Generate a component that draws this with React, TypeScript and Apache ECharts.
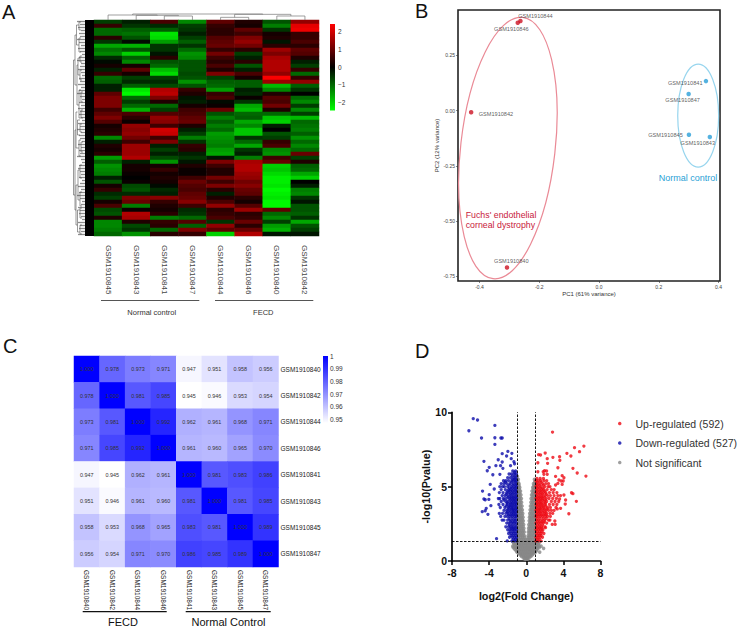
import React, { useEffect, useRef } from "react";
import * as echarts from "echarts";

const FONT = "Liberation Sans";

// ---------- Panel A ----------
const heatColsA = ["GSM1910845", "GSM1910843", "GSM1910841", "GSM1910847", "GSM1910844", "GSM1910846", "GSM1910840", "GSM1910842"];
const col845 = [-0.6,0.5,-1.0,-1.0,0.4,-0.5,-1.6,-1.1,-1.3,-0.4,-0.1,0.2,-0.3,0.5,-1.0,-0.9,-0.3,-0.3,0.9,1.2,1.2,1.2,0.6,0.9,1.2,0.8,0.2,0.3,0.4,-1.3,-0.3,0.3,0.2,0.4,-1.5,-0.9,-1.4,-1.3,-1.2,-0.3,-0.8,0.2,0.5,-0.4,-0.6,0.2,0.7,-0.7,-0.8,0.3,-1.3,-1.3,-1.2,-1.0];
const col843 = [-0.3,-0.5,-0.9,-1.1,-0.8,-0.1,-1.7,-0.8,-2.0,-0.9,-1.3,0.2,0.9,0.2,-0.6,-0.4,-0.9,-2.2,-2.4,-1.0,-0.6,-1.0,-1.7,0.7,0.4,0.1,1.4,1.3,1.4,1.1,0.6,1.5,1.5,1.5,1.7,-0.3,0.2,0.2,0.1,0,0.1,-0.7,-0.8,-0.4,1.2,1.0,-1.2,0.1,1.7,1.6,0.3,-0.7,-0.5,-1.4];
const col841 = [0.7,-0.4,-0.9,-2.2,-2.1,-1.5,-0.5,-0.5,-0.2,0.4,-0.8,-1.0,-1.8,-2.1,-0.6,-0.4,-0.7,1.7,1.8,1.2,0.3,-1.0,-0.6,0.8,1.4,1.3,0.6,2.0,1.9,0.6,1.2,-0.3,-0.6,-0.3,-0.7,-1.4,0.2,0.5,0.2,0.3,0.2,-0.1,-0.4,-0.3,1.3,0.5,0.3,0.2,0.4,-1.2,0.5,0.4,-1.0,0.4];
const col847 = [-1.3,-0.6,-0.5,-0.3,-0.6,-0.9,-0.5,-1.0,-1.4,-1.3,-0.8,-0.8,-0.8,-0.7,-0.8,-1.4,-0.8,0.5,0.3,-0.2,-0.3,0.2,0.6,0.7,0.9,1.0,0.3,-0.3,-0.6,-1.2,-0.5,0.5,0.4,-0.3,-0.5,-0.2,0.3,0.1,0.1,0.6,1.0,0.8,0.7,0.9,1.0,1.3,0.6,-0.4,-0.5,-1.0,0.8,-0.9,1.2,0.5];
const col844 = [0.9,0.5,0.4,0.4,0.8,0.9,1.0,0.5,1.1,0.6,0.4,0.7,0.3,1.2,-0.6,-0.9,-1.0,-1.5,0.5,0.7,-0.1,0.1,1.0,-0.8,-1.2,-0.9,-1.2,-1.0,-1.5,-1.4,-1.3,-1.2,-1.5,-1.6,-0.2,1.2,0.6,0.3,0.3,1.1,0.6,1.2,0.4,-0.3,0.3,0.7,1.4,0.4,0.5,0.7,-0.5,1.4,0.9,-2.0];
const col846 = [0.3,0.2,0.9,0.6,1.2,1.4,1.1,0.4,-0.6,-0.3,0.4,-0.8,-0.3,0.7,0.2,-0.9,-0.9,-0.3,-0.4,0.1,-0.5,-1.6,-1.8,-1.0,-0.9,-1.6,-1.3,-1.9,-1.9,-0.5,-1.0,-1.6,-0.5,-0.3,-1.2,1.6,1.7,1.7,1.5,1.4,1.1,1.3,1.0,0.9,0.4,0.2,0.8,1.5,0.4,0.5,1.0,0.4,1.0,1.7];
const col840 = [-0.8,-1.2,-0.5,0.2,0.3,-0.2,0.4,1.5,1.2,1.6,1.7,1.7,1.7,1.4,2.4,1.5,-1.8,-1.3,0.3,0.8,0.7,1.1,0.3,-1.0,-1.9,-2.0,-0.3,0,-0.8,-0.6,0.5,0.7,-1.3,-1.4,0.6,1.0,-2.0,-1.9,-2.1,-2.3,-2.3,-2.2,-2.4,-2.3,-2.2,-2.4,-2.4,0.9,-1.0,-1.3,-0.6,-1.5,-1.7,-0.2];
const col842 = [1.4,2.2,2.3,0.5,0.5,0.7,0.4,0.9,0.8,0.3,-0.3,-0.6,0.5,-1.0,0.5,1.4,-0.9,-0.5,0,-1.0,-1.3,-0.6,-1.3,-0.6,-1.8,-1.0,-1.1,-1.2,-0.9,-1.4,-1.0,-1.3,-1.0,1.0,-0.6,0.3,-0.9,-1.0,-1.6,-2.0,0,-0.3,-1.2,-1.3,-0.5,-0.2,-0.8,-0.8,-0.9,-0.5,-1.6,-0.8,-0.6,-0.2];
const heatValuesA = [col845, col843, col841, col847, col844, col846, col840, col842];
const colorTicksA = [2, 1, 0, -1, -2];
const colorRangeA = [-2.45, 2.45];

// top dendrogram: left column, right column, height, left child height, right child height
const topLinks = [
  [2.5, 3.5, 4, 0, 0],
  [1.5, 3.0, 4.67, 0, 4],
  [0.5, 2.25, 5, 0, 4.67],
  [4.5, 5.5, 2.67, 0, 0],
  [6.5, 7.5, 4, 0, 0],
  [5.0, 7.0, 5.67, 2.67, 4],
  [1.375, 6.0, 6, 5, 5.67],
];
// left dendrogram brackets: x, y0, y1, child x at y0, child x at y1
const leftBrackets = [
  [0.5,40,175,2,2],[2,15,65,3.5,4],[2,110,190,3,3],[3.5,5,25,6,6],[4,45,85,5,6],[3,92,128,4.5,6],[3,165,205,5,4.5],
  [6,2,10,8,8],[6,18,32,8,8],[5,38,55,7,7],[6,70,98,8,8],[4.5,100,115,7,7],[6,120,136,8,8],[5,150,180,7,7],[4.5,190,212,7,7],
  [7,36,42,9,9],[7,50,60,9,9],[7,104,112,9,9],[7,145,158,9,9],[7,172,186,9,9],[7,188,198,9,9],[7,205,214,9,9],
  [8,72,82,10,10],[8,90,98,10,10],[8,122,132,10,10],
];
const leafStarts = [4,7,5,8,6,7,4,6,8,5,7,9,6,4,8,7,5,8,9,6,7,5,8,6,4,7,9,6,8,5,7,6,8,9,5,7,4,8,6,7,9,5,8,6,7,4,8,9,6,5,7,8,6,9,7,5,8,6,4,7,9,8,5,7,6,8,9,5,7,6,8,5];
const blackBand = [12, 0, 21, 216];

// ---------- Panel B ----------
const pcaNames = ["GSM1910844","GSM1910846","GSM1910842","GSM1910840","GSM1910841","GSM1910847","GSM1910845","GSM1910843"];
const pc1 = [-0.263,-0.272,-0.428,-0.308,0.358,0.300,0.301,0.371];
const pc2 = [0.406,0.398,-0.007,-0.710,0.134,0.076,-0.109,-0.119];
const pcaGroupRed = [true,true,true,true,false,false,false,false];
const pcaLabelOffsets = [[15,-5.5],[-6.4,6],[24.8,2],[4.3,-6.7],[-20.7,2],[-6,6],[-23.4,0.6],[-12,6]];
const pcXTicks = [-0.4,-0.2,0,0.2,0.4];
const pcYTicks = [0.25,0,-0.25,-0.5,-0.75];
// ellipses: cx, cy, rx, ry, tilt degrees
const redEllipse = [-0.305,-0.169,0.158,0.595,6.5];
const blueEllipse = [0.332,-0.0225,0.0685,0.233,0];

// ---------- Panel C ----------
const corrNames = ["GSM1910840","GSM1910842","GSM1910844","GSM1910846","GSM1910841","GSM1910843","GSM1910845","GSM1910847"];
const corrRows = [
  [1.000,0.978,0.973,0.971,0.947,0.951,0.958,0.956],
  [0.978,1.000,0.981,0.985,0.945,0.946,0.953,0.954],
  [0.973,0.981,1.000,0.992,0.962,0.961,0.968,0.971],
  [0.971,0.985,0.992,1.000,0.961,0.960,0.965,0.970],
  [0.947,0.945,0.962,0.961,1.000,0.981,0.983,0.986],
  [0.951,0.946,0.961,0.960,0.981,1.000,0.981,0.985],
  [0.958,0.953,0.968,0.965,0.983,0.981,1.000,0.989],
  [0.956,0.954,0.971,0.970,0.986,0.985,0.989,1.000],
];
const colorTicksC = [1,0.99,0.98,0.97,0.96,0.95];
const colorRangeC = [0.9474, 1];

// ---------- Panel D ----------
const upRows: [number, number[]][] = [
  [1.35,[1.05,1.3,1.6]],[1.6,[1.05,1.25,1.5,1.75]],[1.85,[1.1,1.35,1.6,1.9]],[2.1,[1.05,1.3,1.55,1.8]],
  [2.3,[1.1,1.4,1.65,2.0]],[2.55,[1.05,1.3,1.55,1.85,2.2]],[2.75,[1.1,1.35,1.7,2.0,2.4]],
  [3.0,[1.05,1.25,1.5,1.75,2.05,2.3,2.6]],[3.2,[1.1,1.35,1.6,1.95,2.2,2.55,2.85]],
  [3.4,[1.05,1.3,1.5,1.8,2.1,2.4,2.7,3.0]],[3.6,[1.1,1.4,1.65,1.9,2.3,2.6,3.2]],
  [3.8,[1.05,1.25,1.5,1.75,2.05,2.5,2.9,3.3]],[4.0,[1.1,1.35,1.6,1.95,2.2,2.7,3.1,3.5]],
  [4.2,[1.05,1.3,1.55,1.8,2.15,2.45,2.85,3.25]],[4.4,[1.1,1.4,1.7,2.0,2.3,2.6,3.0,3.4,3.7]],
  [4.6,[1.05,1.3,1.55,1.85,2.1,2.5,2.9,3.3]],[4.8,[1.1,1.35,1.65,1.9,2.25,2.7,3.0]],
  [5.0,[1.05,1.3,1.6,2.0,2.35,2.55]],[5.2,[1.1,1.4,1.75,2.1,2.4]],[5.4,[1.05,1.3,1.55,1.9,2.2]],[5.55,[1.15,1.5,1.85]],
];
const upRowsFill: [number, number[]][] = [
  [1.47,[1.15,1.4]],[1.72,[1.2,1.4,1.6]],[1.97,[1.2,1.45,1.7]],[2.2,[1.2,1.45,1.7]],[2.42,[1.2,1.45,1.75]],
  [2.65,[1.2,1.45,1.7,1.95]],[2.87,[1.2,1.5,1.85,2.15]],[3.1,[1.15,1.4,1.65,1.9,2.15]],[3.3,[1.2,1.45,1.75,2.05]],
  [3.5,[1.15,1.4,1.6,1.95,2.25]],[3.7,[1.2,1.5,1.8,2.1]],[3.9,[1.15,1.45,1.7,2.05]],[4.1,[1.2,1.45,1.75,2.05]],
  [4.3,[1.15,1.4,1.65,1.95]],[4.5,[1.2,1.5,1.75,2.15]],[4.7,[1.15,1.45,1.7,2.0]],[4.9,[1.2,1.5,1.8]],[5.1,[1.15,1.45,1.85]],[5.3,[1.2,1.6]],
];
const upOutliers = [[2.83,8.67],[6.21,7.73],[5.2,7.62],[5.74,7.35],[4.38,7.24],[4.81,7.06],[1.33,7.15],[1.54,7.13],[2.04,7.26],[2.87,6.97],[3.59,7.01],[3.62,6.77],[2.26,6.88],[2.3,6.57],[1.25,6.61],[3.41,6.27],[5.03,6.23],[5.49,5.92],[6.43,5.71],[1.97,6.07],[1.83,6.0],[2.19,6.05],[1.25,6.0],[1.9,5.83],[2.26,5.83],[3.16,5.69],[3.87,5.74],[4.06,5.6],[3.52,5.45],[3.77,5.38],[3.98,5.38],[3.41,5.22],[3.87,5.15],[3.16,5.11],[4.88,4.59],[5.03,4.53],[4.06,4.44],[4.24,4.1],[4.2,3.83],[3.59,4.17],[5.4,4.01],[3.7,3.54],[3.34,3.5],[4.59,3.18],[3.08,2.69],[2.8,2.46],[3.12,2.46],[2.08,2.24],[2.55,2.75]];
const downRows: [number, number[]][] = [
  [1.35,[-1.05,-1.3,-1.55,-2.05]],[1.6,[-1.05,-1.25,-1.5,-1.8]],[1.85,[-1.1,-1.35,-1.6,-1.9]],[2.1,[-1.05,-1.3,-1.5,-1.75,-2.0]],
  [2.3,[-1.1,-1.4,-1.65,-1.9,-2.2]],[2.55,[-1.05,-1.3,-1.55,-1.85,-2.1]],[2.75,[-1.1,-1.35,-1.7,-2.0,-2.4,-2.6]],
  [3.0,[-1.05,-1.25,-1.5,-1.75,-2.05,-2.3,-2.75]],[3.2,[-1.1,-1.35,-1.6,-1.95,-2.2,-2.55,-2.9]],
  [3.4,[-1.05,-1.3,-1.5,-1.8,-2.1,-2.4]],[3.6,[-1.1,-1.4,-1.65,-1.9,-2.3,-2.8]],
  [3.8,[-1.05,-1.25,-1.5,-1.75,-2.05,-2.5,-2.95]],[4.0,[-1.1,-1.35,-1.6,-1.95,-2.2,-2.7]],
  [4.2,[-1.05,-1.3,-1.55,-1.8,-2.15,-2.45,-2.85,-3.0]],[4.4,[-1.1,-1.4,-1.7,-2.0,-2.3,-2.6]],
  [4.6,[-1.05,-1.3,-1.55,-1.85,-2.1,-2.5,-2.9]],[4.8,[-1.1,-1.35,-1.65,-1.9,-2.25,-2.7]],
  [5.0,[-1.05,-1.3,-1.6,-2.0,-2.35,-2.55,-2.85]],[5.2,[-1.1,-1.4,-1.75,-2.1,-2.4,-2.7]],
  [5.4,[-1.05,-1.3,-1.55,-1.9,-2.2,-2.45]],[5.6,[-1.1,-1.35,-1.7,-2.0]],[5.85,[-1.05,-1.3,-1.6,-1.85]],[6.05,[-1.15,-1.45]],
];
const downRowsFill: [number, number[]][] = [
  [1.47,[-1.15,-1.4]],[1.72,[-1.15,-1.4,-1.65]],[1.97,[-1.2,-1.45,-1.75]],[2.2,[-1.2,-1.4,-1.65]],[2.42,[-1.2,-1.5,-1.8]],
  [2.65,[-1.2,-1.45,-1.7]],[2.87,[-1.2,-1.5,-1.85]],[3.1,[-1.15,-1.4,-1.65,-1.9]],[3.3,[-1.2,-1.45,-1.75,-2.05]],
  [3.5,[-1.15,-1.4,-1.6,-1.95]],[3.7,[-1.2,-1.5,-1.8,-2.15]],[3.9,[-1.15,-1.45,-1.7,-2.05]],[4.1,[-1.2,-1.45,-1.75,-2.4]],
  [4.3,[-1.15,-1.4,-1.65,-1.95]],[4.5,[-1.2,-1.5,-1.75,-2.15]],[4.7,[-1.15,-1.45,-1.7,-2.0]],[4.9,[-1.2,-1.5,-1.8]],[5.1,[-1.15,-1.45,-1.85]],[5.3,[-1.2,-1.6,-2.25]],[5.5,[-1.2,-1.45]],[5.72,[-1.2,-1.5]],[5.95,[-1.25]],
];
const downOutliers = [[-5.71,9.57],[-5.25,9.48],[-6.18,8.76],[-3.38,9.12],[-4.82,8.27],[-3.38,8.29],[-2.73,8.27],[-2.59,8.27],[-3.38,7.84],[-1.98,7.37],[-2.59,7.22],[-1.55,7.24],[-2.12,7.06],[-3.02,6.81],[-4.56,6.7],[-1.62,6.88],[-2.59,6.66],[-1.33,6.68],[-1.26,6.54],[-3.27,6.41],[-3.99,6.3],[-2.77,6.41],[-1.69,6.41],[-4.2,6.07],[-2.52,6.23],[-3.6,5.8],[-2.84,5.83],[-4.71,4.7],[-3.88,5.15],[-3.45,4.84],[-3.99,4.46],[-4.56,4.17],[-4.42,4.12],[-4.03,4.14],[-3.81,3.72],[-4.31,3.54],[-4.74,3.32],[-4.42,3.38],[-4.13,3.14],[-3.2,1.5]];
const grayRows: [number, number[]][] = [
  [0.12,[-0.15,0,0.15]],[0.3,[-0.5,-0.3,-0.1,0.1,0.3,0.5]],[0.5,[-0.8,-0.6,-0.4,-0.2,0,0.2,0.4,0.6,0.8]],
  [0.7,[-1.1,-0.9,-0.7,-0.5,-0.3,-0.1,0.1,0.3,0.5,0.7,0.9,1.1]],
  [0.9,[-1.4,-1.2,-1,-0.8,-0.6,-0.4,-0.2,0,0.2,0.4,0.6,0.8,1,1.2,1.4]],
  [1.1,[-1.3,-1.1,-0.9,-0.7,-0.5,-0.3,-0.1,0.1,0.3,0.5,0.7,0.9,1.1,1.3]],
  [1.3,[-1.45,-1.2,-1,-0.8,-0.6,-0.4,-0.2,0,0.2,0.4,0.6,0.8,1,1.2,1.45]],
  [1.45,[-0.9,-0.7,-0.5,-0.3,-0.1,0.1,0.3,0.5,0.7,0.9]],[1.7,[-0.8,-0.6,-0.4,-0.2,0.2,0.4,0.6,0.8]],
  [1.95,[-0.95,-0.8,-0.6,-0.4,-0.22,0.22,0.4,0.6,0.8,0.95]],[2.2,[-0.85,-0.65,-0.45,-0.25,0.25,0.45,0.65,0.85]],
  [2.45,[-0.9,-0.7,-0.5,-0.28,0.28,0.5,0.7,0.9]],[2.7,[-0.9,-0.7,-0.5,-0.32,0.32,0.5,0.7,0.9]],
  [2.95,[-0.92,-0.75,-0.55,-0.35,0.35,0.55,0.75,0.92]],[3.2,[-0.8,-0.6,-0.38,0.38,0.6,0.8]],
  [3.45,[-0.82,-0.62,-0.42,0.42,0.62,0.82]],[3.7,[-0.85,-0.65,-0.45,0.45,0.65,0.85]],
  [3.95,[-0.9,-0.7,-0.5,0.5,0.7,0.9]],[4.2,[-0.9,-0.72,-0.52,0.52,0.72,0.9]],
  [4.45,[-0.92,-0.75,-0.57,0.57,0.75,0.92]],[4.7,[-0.94,-0.8,-0.62,0.62,0.8,0.94]],
  [4.95,[-0.85,-0.7,0.7,0.85]],[5.2,[-0.92,-0.78,0.78,0.92]],[5.5,[-0.95,-0.85,0.88]],
];
const grayRowsFill: [number, number[]][] = [
  [0.2,[-0.3,-0.15,0,0.15,0.3]],[0.4,[-0.65,-0.5,-0.3,-0.1,0.1,0.3,0.5,0.65]],[0.6,[-1,-0.8,-0.6,-0.4,-0.2,0,0.2,0.4,0.6,0.8,1]],
  [0.8,[-1.25,-1.05,-0.85,-0.65,-0.45,-0.25,-0.05,0.15,0.35,0.55,0.75,0.95,1.2]],[1,[-1.45,-1.2,-1,-0.8,-0.6,-0.4,-0.2,0,0.2,0.4,0.6,0.8,1,1.2,1.4]],
  [1.2,[-1.35,-1.1,-0.9,-0.7,-0.5,-0.3,-0.1,0.1,0.3,0.5,0.7,0.9,1.1,1.35]],
  [1.57,[-0.85,-0.6,-0.4,-0.2,0.2,0.4,0.6,0.85]],[1.82,[-0.9,-0.7,-0.5,-0.3,0.3,0.5,0.7,0.9]],[2.07,[-0.9,-0.7,-0.5,-0.3,0.3,0.5,0.7,0.9]],
  [2.32,[-0.95,-0.75,-0.55,-0.35,0.35,0.55,0.75,0.95]],[2.57,[-0.8,-0.6,-0.4,0.4,0.6,0.8]],[2.82,[-0.82,-0.62,-0.42,0.42,0.62,0.82]],
  [3.07,[-0.9,-0.7,-0.45,0.45,0.7,0.9]],[3.32,[-0.92,-0.72,-0.5,0.5,0.72,0.92]],[3.57,[-0.92,-0.75,-0.55,0.55,0.75,0.92]],
  [3.82,[-0.78,-0.58,0.58,0.78]],[4.07,[-0.8,-0.62,0.62,0.8]],[4.32,[-0.85,-0.66,0.66,0.85]],[4.57,[-0.85,-0.7,0.7,0.85]],
  [4.82,[-0.9,-0.75,0.75,0.9]],[5.07,[-0.88,-0.78,0.82,0.92]],[5.35,[-0.9,0.92]],[5.7,[-0.95]],
];
const grayOutliers = [[1.87,0.85],[1.45,0.6],[1.6,1.0]];
const dLegendNames = ["Up-regulated (592)", "Down-regulated (527)", "Not significant"];

const expand = (rows: [number, number[]][]) => rows.flatMap(([y, xs]) => xs.map((x) => [x, y]));

const noAxis = { show: false };

function segmentSeries(gridIndex: number, data: number[][], stroke: string, lineWidth: number) {
  return {
    type: "custom",
    xAxisIndex: gridIndex,
    yAxisIndex: gridIndex,
    coordinateSystem: "cartesian2d",
    silent: true,
    clip: false,
    data,
    encode: { x: [0, 2], y: [1, 3] },
    renderItem: (_p: any, api: any) => {
      const a = api.coord([api.value(0), api.value(1)]);
      const b = api.coord([api.value(2), api.value(3)]);
      return { type: "line", shape: { x1: a[0], y1: a[1], x2: b[0], y2: b[1] }, style: { stroke, lineWidth, fill: "none" } };
    },
  };
}

function colorBarSeries(gridIndex: number, range: number[], stops: { offset: number; color: string }[]) {
  return {
    type: "custom",
    xAxisIndex: gridIndex,
    yAxisIndex: gridIndex,
    silent: true,
    data: [[0, range[0], range[1]]],
    encode: { y: [1, 2] },
    renderItem: (p: any, api: any) => {
      const lo = api.coord([0, api.value(1)]);
      const hi = api.coord([0, api.value(2)]);
      return {
        type: "rect",
        shape: { x: p.coordSys.x, y: hi[1], width: p.coordSys.width, height: lo[1] - hi[1] },
        style: { fill: new echarts.graphic.LinearGradient(0, 0, 0, 1, stops) },
      };
    },
  };
}

function ellipseSeries(gridIndex: number, e: number[], stroke: string) {
  return {
    type: "custom",
    xAxisIndex: gridIndex,
    yAxisIndex: gridIndex,
    silent: true,
    clip: false,
    data: [e],
    renderItem: (_p: any, api: any) => {
      const c = api.coord([api.value(0), api.value(1)]);
      const s = api.size([api.value(2), api.value(3)]);
      return {
        type: "ellipse",
        x: c[0],
        y: c[1],
        rotation: (-api.value(4) * Math.PI) / 180,
        shape: { cx: 0, cy: 0, rx: s[0], ry: s[1] },
        style: { fill: "none", stroke, lineWidth: 1.2 },
      };
    },
  };
}

function textEl(text: string, x: number, y: number, fontSize: number, fill: string, align = "left", rotation = 0) {
  return { type: "text", x, y, rotation, style: { text, fontSize, fontFamily: FONT, fill, align, verticalAlign: "middle" } };
}
function lineEl(x1: number, x2: number, y: number, stroke: string, lineWidth: number) {
  return { type: "line", shape: { x1, y1: y, x2, y2: y }, style: { stroke, lineWidth } };
}

function buildOption() {
  const heatDataA: number[][] = [];
  heatValuesA.forEach((col, c) => col.forEach((v, r) => heatDataA.push([c, r, v])));
  const heatDataC: number[][] = [];
  corrRows.forEach((row, r) => row.forEach((v, c) => heatDataC.push([c, r, v])));

  const topSegs: number[][] = [];
  topLinks.forEach(([l, r, h, hl, hr]) => {
    topSegs.push([l, h, r, h], [l, h, l, hl], [r, h, r, hr]);
  });
  const leftSegs: number[][] = [];
  leftBrackets.forEach(([x, y0, y1, c0, c1]) => {
    leftSegs.push([x, y0, x, y1], [x, y0, c0, y0], [x, y1, c1, y1]);
  });
  const leafSegs = leafStarts.map((x, i) => [x, 1.5 + i * 3, blackBand[0], 1.5 + i * 3]);
  const pcaData = pcaNames.map((name, i) => ({
    name,
    value: [pc1[i], pc2[i]],
    itemStyle: { color: pcaGroupRed[i] ? "#cc1122" : "#2b9fd8" },
    label: { show: true, position: "inside", offset: pcaLabelOffsets[i], formatter: name, fontSize: 5.6, color: "#333", fontFamily: FONT },
  }));

  const grids = [
    { left: 94, top: 20, width: 225, height: 216 },
    { left: 73, top: 20, width: 21, height: 216 },
    { left: 94, top: 14, width: 225, height: 6 },
    { left: 330, top: 24, width: 5, height: 86.5 },
    { left: 458, top: 10, width: 262, height: 271, show: true, borderColor: "#222", borderWidth: 1.6, backgroundColor: "transparent" },
    { left: 74, top: 356, width: 204.5, height: 211 },
    { left: 323, top: 356, width: 5, height: 67 },
    { left: 452, top: 412.3, width: 148.5, height: 148.7 },
  ];
  const xAxes: any[] = [
    {
      gridIndex: 0, type: "category", data: heatColsA, position: "bottom",
      axisLine: { show: false }, axisTick: { show: false }, splitLine: { show: false },
      axisLabel: { rotate: -90, fontSize: 8, color: "#444", fontFamily: FONT, margin: 9, interval: 0 },
    },
    { gridIndex: 1, type: "value", min: 0, max: 21, ...noAxis },
    { gridIndex: 2, type: "value", min: 0, max: 8, ...noAxis },
    { gridIndex: 3, type: "value", min: 0, max: 1, ...noAxis },
    {
      gridIndex: 4, type: "value", min: -0.472, max: 0.405, position: "bottom",
      name: "PC1 (61% variance)", nameLocation: "middle", nameGap: 10,
      nameTextStyle: { fontSize: 6, color: "#333", fontFamily: FONT },
      axisLine: { show: false, onZero: false }, splitLine: { show: false },
      axisTick: { length: 2, customValues: pcXTicks, lineStyle: { color: "#333", width: 0.6 } },
      axisLabel: { customValues: pcXTicks, fontSize: 5, color: "#444", margin: 3, fontFamily: FONT, formatter: (v: number) => v.toFixed(1) },
    },
    {
      gridIndex: 5, type: "category", data: corrNames, position: "bottom",
      axisLine: { show: false }, axisTick: { show: false }, splitLine: { show: false },
      axisLabel: { rotate: -90, fontSize: 6.5, color: "#222", fontFamily: FONT, margin: 3, interval: 0 },
    },
    { gridIndex: 6, type: "value", min: 0, max: 1, ...noAxis },
    {
      gridIndex: 7, type: "value", min: -8, max: 8, interval: 4, position: "bottom",
      name: "log2(Fold Change)", nameLocation: "middle", nameGap: 29,
      nameTextStyle: { fontSize: 10.8, fontWeight: "bold", color: "#111", fontFamily: FONT },
      splitLine: { show: false },
      axisLine: { onZero: false, lineStyle: { color: "#000", width: 1.7 } },
      axisTick: { length: 4, lineStyle: { color: "#000", width: 1.5 } },
      axisLabel: { fontSize: 10.5, fontWeight: "bold", color: "#111", margin: 6, fontFamily: FONT },
    },
  ];
  const yAxes: any[] = [
    { gridIndex: 0, type: "category", inverse: true, data: col845.map((_, i) => String(i)), ...noAxis },
    { gridIndex: 1, type: "value", min: 0, max: 216, inverse: true, ...noAxis },
    { gridIndex: 2, type: "value", min: 0, max: 6, ...noAxis },
    {
      gridIndex: 3, type: "value", min: colorRangeA[0], max: colorRangeA[1], position: "right",
      axisLine: { show: false }, axisTick: { show: false }, splitLine: { show: false },
      axisLabel: { customValues: colorTicksA, fontSize: 6.5, color: "#333", margin: 3, fontFamily: FONT, formatter: (v: number) => (v < 0 ? "\u2212" + Math.abs(v) : String(v)) },
    },
    {
      gridIndex: 4, type: "value", min: -0.771, max: 0.456, position: "left",
      name: "PC2 (12% variance)", nameLocation: "middle", nameGap: 17, nameRotate: 90,
      nameTextStyle: { fontSize: 6, color: "#333", fontFamily: FONT },
      axisLine: { show: false, onZero: false }, splitLine: { show: false },
      axisTick: { length: 2, customValues: pcYTicks, lineStyle: { color: "#333", width: 0.6 } },
      axisLabel: { customValues: pcYTicks, fontSize: 5, color: "#444", margin: 3, fontFamily: FONT, formatter: (v: number) => v.toFixed(2) },
    },
    {
      gridIndex: 5, type: "category", data: corrNames, inverse: true, position: "right",
      axisLine: { show: false }, axisTick: { show: false }, splitLine: { show: false },
      axisLabel: { fontSize: 6.5, color: "#222", fontFamily: FONT, margin: 2, interval: 0 },
    },
    {
      gridIndex: 6, type: "value", min: colorRangeC[0], max: colorRangeC[1], position: "right",
      axisLine: { show: false }, axisTick: { show: false }, splitLine: { show: false },
      axisLabel: { customValues: colorTicksC, fontSize: 6.5, color: "#333", margin: 2, fontFamily: FONT, formatter: (v: number) => String(v) },
    },
    {
      gridIndex: 7, type: "value", min: 0, max: 10, interval: 5, position: "left",
      name: "-log10(Pvalue)", nameLocation: "middle", nameGap: 21, nameRotate: 90,
      nameTextStyle: { fontSize: 10.8, fontWeight: "bold", color: "#111", fontFamily: FONT },
      splitLine: { show: false },
      axisLine: { onZero: false, lineStyle: { color: "#000", width: 1.7 } },
      axisTick: { length: 4, lineStyle: { color: "#000", width: 1.5 } },
      axisLabel: { fontSize: 10.5, fontWeight: "bold", color: "#111", margin: 5, fontFamily: FONT },
    },
  ];

  const series: any[] = [
    /* 0 */ { type: "heatmap", xAxisIndex: 0, yAxisIndex: 0, data: heatDataA, silent: true, itemStyle: { borderWidth: 0 } },
    /* 1 */ segmentSeries(1, leafSegs, "#8c8c8c", 1.3),
    /* 2 */ segmentSeries(1, leftSegs, "#555", 0.6),
    /* 3 */ {
      type: "custom", xAxisIndex: 1, yAxisIndex: 1, silent: true, data: [blackBand],
      renderItem: (_p: any, api: any) => {
        const a = api.coord([api.value(0), api.value(1)]);
        const b = api.coord([api.value(2), api.value(3)]);
        return { type: "rect", shape: { x: a[0], y: a[1], width: b[0] - a[0], height: b[1] - a[1] }, style: { fill: "#000" } };
      },
    },
    /* 4 */ segmentSeries(2, topSegs, "#777", 0.7),
    /* 5 */ colorBarSeries(3, colorRangeA, [{ offset: 0, color: "#ff0000" }, { offset: 0.5, color: "#000000" }, { offset: 1, color: "#00ff00" }]),
    /* 6 */ ellipseSeries(4, redEllipse, "#ea8a96"),
    /* 7 */ ellipseSeries(4, blueEllipse, "#97d5ee"),
    /* 8 */ { type: "scatter", xAxisIndex: 4, yAxisIndex: 4, symbolSize: 4.5, data: pcaData, silent: true },
    /* 9 */ {
      type: "heatmap", xAxisIndex: 5, yAxisIndex: 5, data: heatDataC, silent: true, itemStyle: { borderWidth: 0 },
      label: { show: true, fontSize: 5.4, color: "#333", fontFamily: FONT, formatter: (p: any) => p.value[2].toFixed(3) },
    },
    /* 10 */ colorBarSeries(6, colorRangeC, [{ offset: 0, color: "#0000ff" }, { offset: 1, color: "#ffffff" }]),
    /* 11 */ {
      type: "scatter", name: dLegendNames[2], xAxisIndex: 7, yAxisIndex: 7, symbolSize: 3.6, silent: true, clip: false,
      itemStyle: { color: "#878787" }, data: [...expand(grayRows), ...expand(grayRowsFill), ...grayOutliers],
    },
    /* 12 */ {
      type: "scatter", name: dLegendNames[1], xAxisIndex: 7, yAxisIndex: 7, symbolSize: 3.3, silent: true, clip: false,
      itemStyle: { color: "#0c0caa" }, data: [...expand(downRows), ...expand(downRowsFill), ...downOutliers],
    },
    /* 13 */ {
      type: "scatter", name: dLegendNames[0], xAxisIndex: 7, yAxisIndex: 7, symbolSize: 3.3, silent: true, clip: false,
      itemStyle: { color: "#ee0a14" }, data: [...expand(upRows), ...expand(upRowsFill), ...upOutliers],
      markLine: {
        silent: true, symbol: "none", label: { show: false }, animation: false,
        lineStyle: { color: "#000", type: [2.5, 1.5], width: 0.9 },
        data: [{ xAxis: -1 }, { xAxis: 1 }, { yAxis: 1.3 }],
      },
    },
  ];

  return {
    animation: false,
    backgroundColor: "#fff",
    textStyle: { fontFamily: FONT },
    grid: grids,
    xAxis: xAxes,
    yAxis: yAxes,
    series,
    visualMap: [
      { show: false, seriesIndex: 0, dimension: 2, min: colorRangeA[0], max: colorRangeA[1], inRange: { color: ["#00ff00", "#000000", "#ff0000"] } },
      { show: false, seriesIndex: 9, dimension: 2, min: 0.945, max: 1, inRange: { color: ["#ffffff", "#0000ff"] } },
    ],
    legend: {
      left: 613, top: 413, orient: "vertical", icon: "circle", itemWidth: 3.5, itemHeight: 3.5, itemGap: 8.5,
      data: dLegendNames, selectedMode: false,
      textStyle: { fontSize: 10.5, color: "#333", fontFamily: FONT, padding: [0, 0, 0, 9] },
    },
    graphic: [
      textEl("A", 2, 12, 20, "#111"),
      textEl("B", 415, 11, 20, "#111"),
      textEl("C", 3, 346, 20, "#111"),
      textEl("D", 415, 351, 20, "#111"),
      lineEl(101, 199.3, 300.5, "#555", 1),
      lineEl(215, 313.3, 300.5, "#555", 1),
      textEl("Normal control", 151.7, 312, 7.5, "#333", "center"),
      textEl("FECD", 263.3, 312, 7.5, "#333", "center"),
      textEl("Fuchs' endothelial", 465.7, 214.7, 8.8, "#c8203c"),
      textEl("corneal dystrophy", 465.7, 225, 8.8, "#c8203c"),
      textEl("Normal control", 658.7, 178, 9, "#2a9fd6"),
      lineEl(82.7, 166.7, 611.7, "#111", 1.2),
      lineEl(185.7, 270.7, 611.7, "#111", 1.2),
      textEl("FECD", 123, 622, 11, "#111", "center"),
      textEl("Normal Control", 228.5, 622, 11, "#111", "center"),
    ],
  };
}

export default function App() {
  const ref = useRef<HTMLDivElement>(null);
  useEffect(() => {
    const chart = echarts.init(ref.current!, undefined, { renderer: "svg" });
    chart.setOption(buildOption() as any);
    return () => chart.dispose();
  }, []);
  return <div ref={ref} style={{ position: "absolute", left: 0, top: 0, width: 740, height: 627 }} />;
}
